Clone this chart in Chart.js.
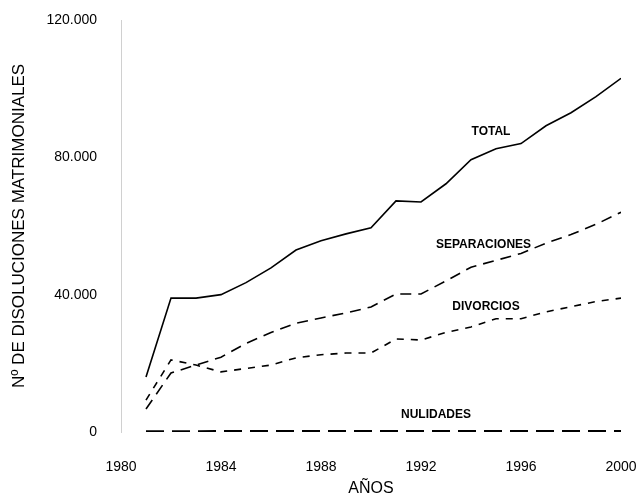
<!DOCTYPE html>
<html>
<head>
<meta charset="utf-8">
<script src="https://cdn.jsdelivr.net/npm/chart.js@4"></script>
<style>
  html, body { margin: 0; padding: 0; background: #fff; }
  #wrap { width: 639px; height: 498px; }
</style>
</head>
<body>
<div id="wrap"><canvas id="chart"></canvas></div>
<script>
// Data
const years = [1981, 1982, 1983, 1984, 1985, 1986, 1987, 1988, 1989, 1990,
  1991, 1992, 1993, 1994, 1995, 1996, 1997, 1998, 1999, 2000];
const total = [16000, 39000, 39000, 40000, 43500, 47800, 53000, 55700, 57700, 59500,
  67300, 67000, 72300, 79300, 82500, 84000, 89200, 93000, 97700, 103000];
const separaciones = [6700, 17200, 19500, 21800, 25800, 29000, 31700, 33200, 34700, 36400,
  40200, 40200, 44000, 48000, 50000, 52000, 55000, 57500, 60500, 64000];
const divorcios = [9300, 21000, 19500, 17500, 18500, 19500, 21600, 22500, 23000, 23000,
  27100, 26800, 29000, 30600, 33000, 33000, 35000, 36500, 38000, 39000];
const nulidades = [200, 250, 250, 300, 300, 300, 300, 300, 300, 300,
  300, 300, 300, 300, 300, 300, 300, 300, 300, 300];
const yTicks = [0, 40000, 80000, 120000];
const xTicks = [1980, 1984, 1988, 1992, 1996, 2000];

// In-chart series labels: [text, year, value]
const seriesLabels = [
  ["TOTAL", 1994.8, 87500],
  ["SEPARACIONES", 1994.5, 54500],
  ["DIVORCIOS", 1994.6, 36400],
  ["NULIDADES", 1992.6, 5000]
];

const pts = (vals) => vals.map((v, i) => ({ x: years[i], y: v }));
const fmt = (n) => String(n).replace(/\B(?=(\d{3})+(?!\d))/g, ".");
const FONT = "'Liberation Sans', Arial, sans-serif";

const labelPlugin = {
  id: "seriesLabels",
  afterDatasetsDraw(chart) {
    const { ctx, scales } = chart;
    ctx.save();
    ctx.font = "bold 12px " + FONT;
    ctx.fillStyle = "#000";
    ctx.textAlign = "center";
    ctx.textBaseline = "middle";
    seriesLabels.forEach(([txt, x, y]) => {
      ctx.fillText(txt, scales.x.getPixelForValue(x), scales.y.getPixelForValue(y));
    });
    ctx.restore();
  }
};

const line = (data, dash, width) => ({
  data: pts(data),
  borderColor: "#000",
  borderWidth: width,
  borderDash: dash,
  pointRadius: 0,
  tension: 0,
  fill: false
});

new Chart(document.getElementById("chart"), {
  type: "line",
  data: {
    datasets: [
      line(total, [], 1.6),
      line(separaciones, [11, 7], 1.6),
      line(divorcios, [7, 7], 1.6),
      line(nulidades, [18, 8], 2)
    ]
  },
  options: {
    responsive: true,
    maintainAspectRatio: false,
    animation: false,
    layout: { padding: { top: 20, right: 18, left: 0, bottom: 0 } },
    plugins: { legend: { display: false }, tooltip: { enabled: false } },
    scales: {
      x: {
        type: "linear",
        min: 1980,
        max: 2000,
        afterBuildTicks: (s) => { s.ticks = xTicks.map((v) => ({ value: v })); },
        afterFit: (s) => { s.height = 66; s.paddingLeft = 0; s.paddingRight = 0; },
        grid: { display: false, drawTicks: false },
        border: { display: false },
        ticks: {
          color: "#000",
          padding: 27,
          font: { family: FONT, size: 14 },
          callback: (v) => String(v)
        },
        title: {
          display: true,
          text: "AÑOS",
          color: "#000",
          padding: { top: 0, bottom: 0 },
          font: { family: FONT, size: 16 }
        }
      },
      y: {
        min: 0,
        max: 120000,
        afterBuildTicks: (s) => { s.ticks = yTicks.map((v) => ({ value: v })); },
        afterFit: (s) => { s.width = 121; s.paddingTop = 0; s.paddingBottom = 0; },
        grid: { display: false, drawTicks: false },
        border: { display: true, color: "#d0d0d0", width: 1, dash: [2, 3] },
        ticks: {
          color: "#000",
          padding: 24,
          font: { family: FONT, size: 14 },
          callback: (v) => fmt(v)
        },
        title: {
          display: true,
          text: "Nº DE DISOLUCIONES MATRIMONIALES",
          color: "#000",
          padding: { top: 9, bottom: 0 },
          font: { family: FONT, size: 17 }
        }
      }
    }
  },
  plugins: [labelPlugin]
});
</script>
</body>
</html>
